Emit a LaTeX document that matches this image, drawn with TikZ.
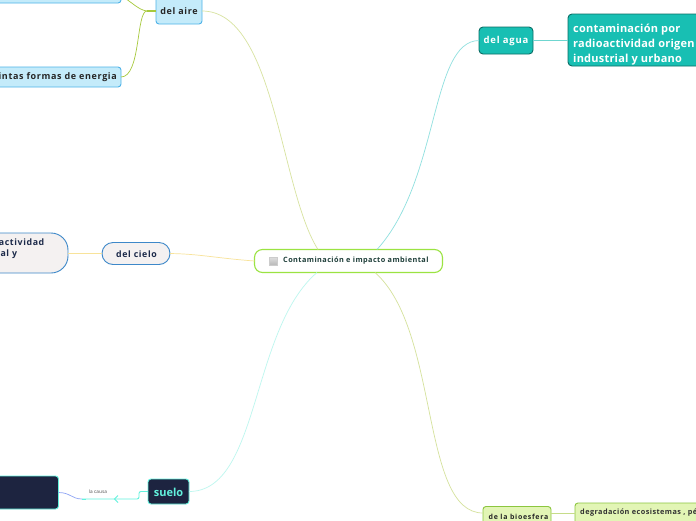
\documentclass[tikz,border=0pt]{standalone}
\usepackage{fontspec}
\setmainfont{Open Sans}
\usetikzlibrary{arrows.meta}
\definecolor{cgreen}{HTML}{9BE342}
\definecolor{ctext}{HTML}{1F3F3A}
\definecolor{aireline}{HTML}{D8E3A0}
\definecolor{airefill}{HTML}{C4EBFA}
\definecolor{aireborder}{HTML}{4FB3E8}
\definecolor{airesub}{HTML}{A7C93C}
\definecolor{cieloline}{HTML}{F8E39A}
\definecolor{cielofill}{HTML}{F4F1F1}
\definecolor{cieloborder}{HTML}{3D88C9}
\definecolor{navytext}{HTML}{1C2A4A}
\definecolor{agualine}{HTML}{8FE0DF}
\definecolor{aguafill}{HTML}{18BFB3}
\definecolor{aguaborder}{HTML}{0A6D65}
\definecolor{aguasub}{HTML}{6FD6D0}
\definecolor{sueloline}{HTML}{BDF7EF}
\definecolor{suelofill}{HTML}{1D2440}
\definecolor{sueloborder}{HTML}{62F2DD}
\definecolor{causablue}{HTML}{8FA5F5}
\definecolor{bioline}{HTML}{D5E29C}
\definecolor{biofill}{HTML}{E2F5B5}
\definecolor{bioborder}{HTML}{8CC63F}
\newcommand{\fnt}[3]{\fontsize{#1}{#2}\selectfont\bfseries\addfontfeature{LetterSpace=#3}}
\tikzset{
  box/.style={inner sep=0pt, outer sep=0pt},
  airebox/.style={box, rounded corners=3pt, fill=airefill, draw=aireborder, line width=0.9pt},
  cielobox/.style={box, fill=cielofill, draw=cieloborder, line width=0.9pt},
  aguabox/.style={box, rounded corners=4pt, fill=aguafill, draw=aguaborder, line width=0.9pt},
  suelobox/.style={box, rounded corners=3pt, fill=suelofill, draw=sueloborder, line width=0.9pt},
  biobox/.style={box, rounded corners=3pt, fill=biofill, draw=bioborder, line width=0.9pt},
  lbl/.style={inner sep=0pt},
  conn/.style={line width=0.7pt},
}
\begin{document}
\begin{tikzpicture}[x=1pt,y=-1pt]
\useasboundingbox (0,0) rectangle (696,520);
\clip (0,0) rectangle (696,520);
\fill[white] (0,0) rectangle (696,520);

% nodes
\node[box, rounded corners=8pt, fill=white, draw=cgreen, line width=1.1pt, minimum width=188pt, minimum height=23pt] (c) at (348.5,261) {};
\node[box, minimum size=8pt, top color=gray!25, bottom color=gray!55, draw=gray!40, line width=0.3pt] (icon) at (273.5,261) {};
\node[lbl, text=ctext, font=\fnt{7.3}{8}{6}, anchor=west] (ct) at (283,261) {Contaminación e impacto ambiental};

\node[airebox, minimum width=46pt, minimum height=32pt] (aire) at (179,8) {};
\node[lbl, font=\fnt{9}{10}{7}, text=black!85] (airet) at (179,11) {del aire};
\node[airebox, minimum width=140pt, minimum height=24pt, anchor=south east] (top) at (121,3) {};
\node[airebox, minimum width=140pt, minimum height=20pt, anchor=east] (energ) at (121,77) {};
\node[lbl, font=\fnt{9}{10}{7}, text=black!85, anchor=east] (energt) at (117,77.5) {distintas formas de energia};

\node[cielobox, rounded corners=11pt, minimum width=68pt, minimum height=22pt] (cielo) at (136,253.5) {};
\node[lbl, font=\fnt{8.8}{10}{7}, text=navytext] (cielot) at (136.5,254) {del cielo};
\node[cielobox, rounded corners=17pt, minimum width=140pt, minimum height=40pt, anchor=east] (big) at (68,253) {};
\node[lbl, font=\fnt{8.8}{11.5}{7}, text=navytext, align=left, anchor=north east] (bigt) at (44.5,238.5) {radioactividad\\natural y};

\node[aguabox, minimum width=54pt, minimum height=27pt] (agua) at (506,40.5) {};
\node[lbl, font=\fnt{9.5}{11}{8}, text=white] (aguat) at (506,41) {del agua};
\node[aguabox, minimum width=140pt, minimum height=52pt, anchor=west] (rad) at (568,40) {};
\node[lbl, font=\fnt{11}{15}{2}, text=white, align=left, anchor=north west] (radt) at (573,24) {contaminación por\\radioactividad origen\\industrial y urbano};

\node[suelobox, minimum width=41pt, minimum height=25pt] (suelo) at (168.5,491.5) {};
\node[lbl, font=\fnt{11}{13}{0}, text=sueloborder] (suelot) at (168.5,492) {suelo};
\node[suelobox, minimum width=120pt, minimum height=33pt, anchor=east] (dark) at (58.5,492.5) {};
\node[inner sep=0pt, font=\fontsize{4.8}{6}\selectfont, text=black!70] (causa) at (98,492) {la causa};
\coordinate (bend) at (82,499);

\node[biobox, minimum width=68pt, minimum height=24pt, anchor=north west] (bio) at (483,506.5) {};
\node[lbl, font=\fnt{7}{8}{10}, text=black!85, anchor=west] (biot) at (488.5,516.5) {de la bioesfera};
\node[biobox, minimum width=140pt, minimum height=30pt, anchor=north west] (deg) at (575,503) {};
\node[lbl, font=\fnt{7.3}{8}{6}, text=black!80, anchor=west] (degt) at (580,513) {degradación ecosistemas , pérdida de biodiversidad};

% connectors
\draw[conn, aireline] (318,249.5) .. controls (280,190) and (275,11) .. (aire.east |- 0,11);
\draw[conn, airesub, line width=1.6pt] (aire.west |- 0,11) -- (147,11);
\draw[conn, airesub] (147,11) .. controls (136,11) and (141,77) .. (energ.east);
\draw[conn, airesub] (147,11) .. controls (138,10) and (131,1) .. (121,-4);
\draw[conn, cieloline] (c.west) .. controls (215,258) and (200,254) .. (cielo.east);
\draw[conn, cieloline] (cielo.west) -- (big.east |- cielo.west);
\draw[conn, agualine] (377,249.5) .. controls (440,180) and (430,41) .. (agua.west);
\draw[conn, aguasub] (agua.east) -- (rad.west |- agua.east);
\draw[conn, sueloline] (317,272.5) .. controls (250,330) and (260,491.5) .. (suelo.east);
\draw[conn, bioline] (375,272.5) .. controls (440,330) and (420,513) .. (bio.west |- 0,513);
\draw[conn, bioline!80!bioborder] (bio.east |- 0,513) -- (deg.west |- 0,513);
\draw[conn, sueloborder, line width=0.9pt, rounded corners=2pt] (suelo.west) -- (139,491.5) -- (139,499) -- (bend);
\draw[sueloborder, line width=0.9pt] (118,495.5) -- (114.5,499) -- (118,502.5);
\draw[conn, causablue] (bend) .. controls (72,499) and (70,492.5) .. (dark.east);
\draw[conn, sueloborder] (bend) -- (86,499);
\end{tikzpicture}
\end{document}
